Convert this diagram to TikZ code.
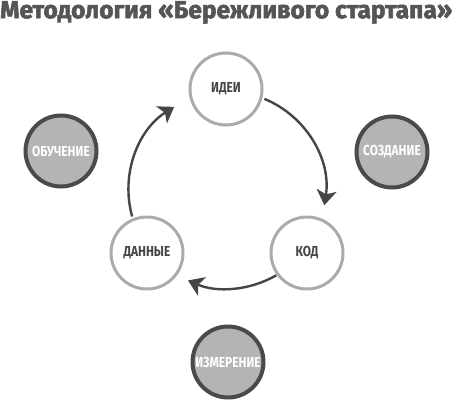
\documentclass[tikz,border=0pt]{standalone}
\usepackage{fontspec}
\setmainfont{Fira Sans}
\newfontfamily\condfont{Fira Sans}[FakeStretch=0.82]
\newfontfamily\titlefont{Fira Sans}[FakeBold=2.2]
\usetikzlibrary{arrows.meta}
\definecolor{ringlight}{HTML}{ABABAB}
\definecolor{ringdark}{HTML}{4A4A4A}
\definecolor{filldark}{HTML}{B4B4B4}
\definecolor{textdark}{HTML}{454545}
\definecolor{titlegray}{HTML}{555555}
\definecolor{arcgray}{HTML}{454545}
\begin{document}
\begin{tikzpicture}[x=1pt,y=-1pt,
  inner/.style={circle,draw=ringlight,line width=3pt,fill=white,minimum size=72pt,inner sep=0pt,
    font=\condfont\bfseries\fontsize{14.5}{15}\selectfont,text=textdark},
  outer/.style={circle,draw=ringdark,line width=4pt,fill=filldark,minimum size=71pt,inner sep=0pt,
    font=\condfont\bfseries\fontsize{14.5}{15}\selectfont,text=white},
  cyclearrow/.style={draw=arcgray,line width=2.4pt,-{Stealth[length=15pt,width=20pt,inset=4pt]}}]
\useasboundingbox (0,0) rectangle (454,403);
\node[anchor=north west,inner sep=0pt,text=titlegray] (title) at (0,1)
  {\resizebox{452pt}{!}{\titlefont\bfseries Методология «Бережливого стартапа»}};
\node[inner] (idei) at (226,89) {ИДЕИ};
\node[inner] (kod) at (307,253) {КОД};
\node[inner] (dann) at (147,253) {ДАННЫЕ};
\node[outer] (obuch) at (61,151) {ОБУЧЕНИЕ};
\node[outer] (sozd) at (392,152) {СОЗДАНИЕ};
\node[outer] (izm) at (228,362) {ИЗМЕРЕНИЕ};
\coordinate (ctr) at (227,190);
\draw[cyclearrow] ([shift={(-67.7:98.5)}]ctr) arc[start angle=-67.7,end angle=8.9,radius=98.5];
\draw[cyclearrow] ([shift={(60:98.5)}]ctr) arc[start angle=60,end angle=113.3,radius=98.5];
\draw[cyclearrow] ([shift={(164.4:98.5)}]ctr) arc[start angle=164.4,end angle=237.6,radius=98.5];
\end{tikzpicture}
\end{document}
